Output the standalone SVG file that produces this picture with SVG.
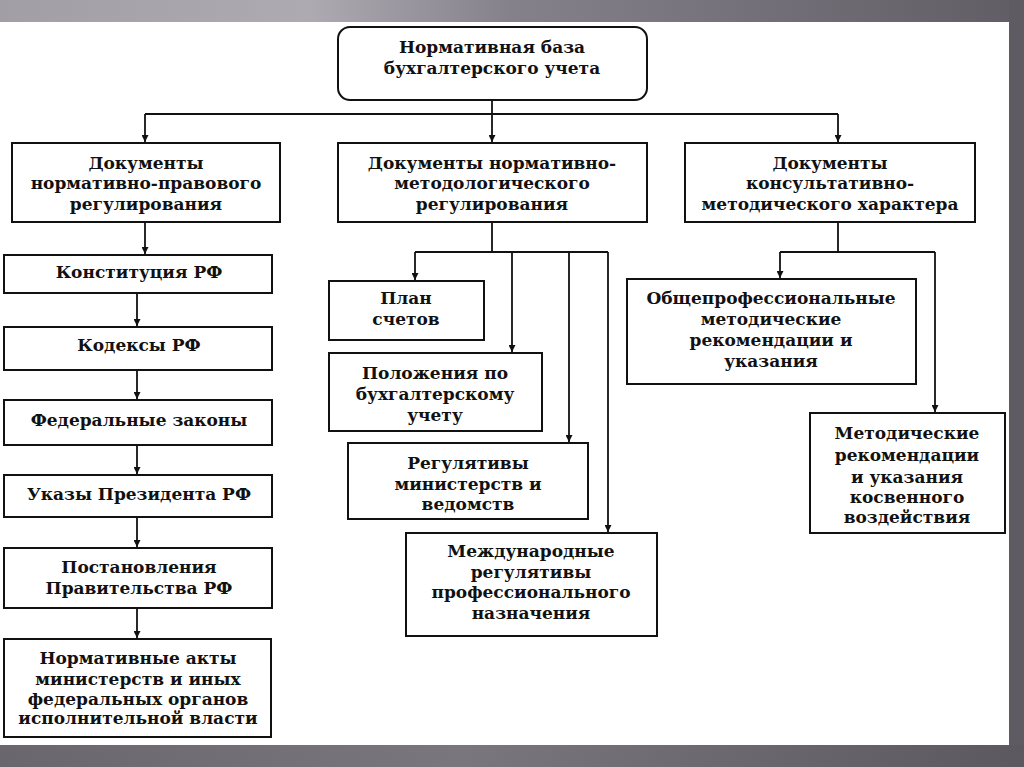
<svg xmlns="http://www.w3.org/2000/svg" width="1024" height="767" viewBox="0 0 1024 767">
<style>
.box{fill:#fff;stroke:#111;stroke-width:2}
.t{font-family:"DejaVu Serif","Liberation Serif",serif;font-weight:bold;font-size:17px;fill:#111;text-anchor:middle}
.c{fill:none;stroke:#111;stroke-width:1.8}
</style>
<defs>
<linearGradient id="gt" x1="0" y1="0" x2="1" y2="0">
<stop offset="0" stop-color="#a29ea6"/>
<stop offset="0.3" stop-color="#aeaab2"/>
<stop offset="0.5" stop-color="#85818a"/>
<stop offset="1" stop-color="#615d65"/>
</linearGradient>
<linearGradient id="gb" x1="0" y1="0" x2="1" y2="0">
<stop offset="0" stop-color="#6a666e"/>
<stop offset="0.45" stop-color="#7a767e"/>
<stop offset="1" stop-color="#5b5860"/>
</linearGradient>
<marker id="ah" viewBox="0 0 10 10" refX="10" refY="5" markerWidth="8" markerHeight="7" markerUnits="userSpaceOnUse" orient="auto">
<path d="M0,0 L10,5 L0,10 z" fill="#111"/>
</marker>
</defs>
<rect x="0" y="0" width="1024" height="767" fill="#fff"/>
<rect x="0" y="0" width="1024" height="22" fill="url(#gt)"/>
<rect x="1009" y="0" width="15" height="767" fill="#5e5b62"/>
<rect x="0" y="745" width="1024" height="22" fill="url(#gb)"/>

<g id="connectors">
<path class="c" d="M492,100 V142" marker-end="url(#ah)"/>
<path class="c" d="M145,114 H838"/>
<path class="c" d="M145,114 V142" marker-end="url(#ah)"/>
<path class="c" d="M838,114 V142" marker-end="url(#ah)"/>
<path class="c" d="M145,222 V254" marker-end="url(#ah)"/>
<path class="c" d="M137,293 V326" marker-end="url(#ah)"/>
<path class="c" d="M137,370 V399" marker-end="url(#ah)"/>
<path class="c" d="M137,445 V474" marker-end="url(#ah)"/>
<path class="c" d="M137,517 V547" marker-end="url(#ah)"/>
<path class="c" d="M137,608 V638" marker-end="url(#ah)"/>
<path class="c" d="M492,222 V252 M415,252 H608"/>
<path class="c" d="M415,252 V280" marker-end="url(#ah)"/>
<path class="c" d="M512,252 V352" marker-end="url(#ah)"/>
<path class="c" d="M569,252 V442" marker-end="url(#ah)"/>
<path class="c" d="M608,252 V532" marker-end="url(#ah)"/>
<path class="c" d="M838,222 V252 M780,252 H935"/>
<path class="c" d="M780,252 V278" marker-end="url(#ah)"/>
<path class="c" d="M935,252 V412" marker-end="url(#ah)"/>
</g>

<g id="root">
<rect class="box" x="338" y="27" width="309" height="73" rx="12"/>
<text class="t" x="492" y="53">Нормативная база</text>
<text class="t" x="492" y="74">бухгалтерского учета</text>
</g>

<g id="docs-legal">
<rect class="box" x="12" y="143" width="268" height="79"/>
<text class="t" x="146" y="169">Документы</text>
<text class="t" x="146" y="189">нормативно-правового</text>
<text class="t" x="146" y="210">регулирования</text>
</g>
<g id="docs-method">
<rect class="box" x="338" y="143" width="309" height="79"/>
<text class="t" x="492" y="169">Документы нормативно-</text>
<text class="t" x="492" y="189">методологического</text>
<text class="t" x="492" y="210">регулирования</text>
</g>
<g id="docs-consult">
<rect class="box" x="685" y="143" width="290" height="79"/>
<text class="t" x="830" y="169">Документы</text>
<text class="t" x="830" y="189">консультативно-</text>
<text class="t" x="830" y="210">методического характера</text>
</g>

<g id="constitution">
<rect class="box" x="4" y="255" width="268" height="38"/>
<text class="t" x="139" y="278">Конституция РФ</text>
</g>
<g id="codes">
<rect class="box" x="4" y="327" width="268" height="43"/>
<text class="t" x="139" y="351">Кодексы РФ</text>
</g>
<g id="federal-laws">
<rect class="box" x="4" y="400" width="268" height="45"/>
<text class="t" x="139" y="426">Федеральные законы</text>
</g>
<g id="decrees">
<rect class="box" x="4" y="475" width="268" height="42"/>
<text class="t" x="139" y="500">Указы Президента РФ</text>
</g>
<g id="resolutions">
<rect class="box" x="4" y="548" width="268" height="60"/>
<text class="t" x="139" y="573">Постановления</text>
<text class="t" x="139" y="594">Правительства РФ</text>
</g>
<g id="normative-acts">
<rect class="box" x="4" y="639" width="267" height="98"/>
<text class="t" x="138" y="664">Нормативные акты</text>
<text class="t" x="138" y="685">министерств и иных</text>
<text class="t" x="138" y="705">федеральных органов</text>
<text class="t" x="138" y="724">исполнительной власти</text>
</g>

<g id="chart-of-accounts">
<rect class="box" x="329" y="281" width="155" height="59"/>
<text class="t" x="406" y="304">План</text>
<text class="t" x="406" y="325">счетов</text>
</g>
<g id="regulations">
<rect class="box" x="329" y="353" width="213" height="78"/>
<text class="t" x="435" y="379">Положения по</text>
<text class="t" x="435" y="400">бухгалтерскому</text>
<text class="t" x="435" y="421">учету</text>
</g>
<g id="ministry-regs">
<rect class="box" x="348" y="443" width="240" height="76"/>
<text class="t" x="468" y="469">Регулятивы</text>
<text class="t" x="468" y="490">министерств и</text>
<text class="t" x="468" y="510">ведомств</text>
</g>
<g id="intl-regs">
<rect class="box" x="406" y="533" width="251" height="103"/>
<text class="t" x="531" y="557">Международные</text>
<text class="t" x="531" y="578">регулятивы</text>
<text class="t" x="531" y="598">профессионального</text>
<text class="t" x="531" y="619">назначения</text>
</g>

<g id="general-recs">
<rect class="box" x="627" y="279" width="289" height="105"/>
<text class="t" x="771" y="304">Общепрофессиональные</text>
<text class="t" x="771" y="325">методические</text>
<text class="t" x="771" y="346">рекомендации и</text>
<text class="t" x="771" y="367">указания</text>
</g>
<g id="indirect-recs">
<rect class="box" x="810" y="413" width="195" height="120"/>
<text class="t" x="907" y="439">Методические</text>
<text class="t" x="907" y="461">рекомендации</text>
<text class="t" x="907" y="483">и указания</text>
<text class="t" x="907" y="503">косвенного</text>
<text class="t" x="907" y="523">воздействия</text>
</g>
</svg>
